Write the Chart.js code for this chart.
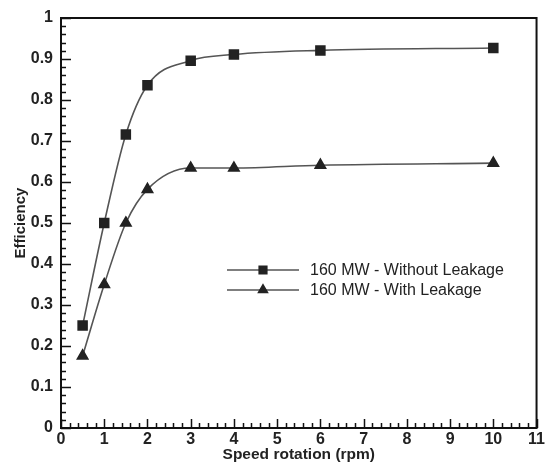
<!DOCTYPE html>
<html>
<head>
<meta charset="utf-8">
<script src="https://cdn.jsdelivr.net/npm/chart.js@4"></script>
<style>
  html, body { margin: 0; padding: 0; background: #fff; }
  #wrap { width: 547px; height: 464px; position: relative; }
</style>
</head>
<body>
<div id="wrap"><canvas id="chart"></canvas></div>
<script>
const speed = [0.5, 1, 1.5, 2, 3, 4, 6, 10];
const withoutLeakage = [0.25, 0.5, 0.716, 0.836, 0.896, 0.911, 0.921, 0.927];
const withLeakage = [0.176, 0.35, 0.5, 0.582, 0.634, 0.634, 0.641, 0.646];
const seriesLabels = ['160 MW - Without Leakage', '160 MW - With Leakage'];
const xTicks = [0, 1, 2, 3, 4, 5, 6, 7, 8, 9, 10, 11];
const yTicks = [0, 0.1, 0.2, 0.3, 0.4, 0.5, 0.6, 0.7, 0.8, 0.9, 1];

const FONT = 'Liberation Sans, Arial, sans-serif';

// box + inward ticks like the original Tecplot style
const frameAndTicks = {
  id: 'frameAndTicks',
  afterDraw(chart) {
    const { ctx, chartArea: a, scales } = chart;
    const xs = scales.x, ys = scales.y;
    ctx.save();
    ctx.strokeStyle = '#111';
    ctx.lineWidth = 1.5;
    ctx.beginPath();
    // x ticks (major 1, minor 0.2)
    for (let i = 0; i <= 55; i++) {
      const v = i * 0.2;
      const px = Math.round(xs.getPixelForValue(v)) + 0.5;
      const len = i % 5 === 0 ? 9 : 5;
      ctx.moveTo(px, a.bottom);
      ctx.lineTo(px, a.bottom - len);
    }
    // y ticks (major 0.1, minor 0.02)
    for (let i = 0; i <= 50; i++) {
      const v = i * 0.02;
      const py = Math.round(ys.getPixelForValue(v)) + 0.5;
      const len = i % 5 === 0 ? 10 : 5;
      ctx.moveTo(a.left, py);
      ctx.lineTo(a.left + len, py);
    }
    ctx.stroke();
    ctx.lineWidth = 2;
    ctx.strokeRect(a.left, a.top, a.right - a.left, a.bottom - a.top);
    ctx.restore();
  }
};

// legend drawn inside the plot area
const insideLegend = {
  id: 'insideLegend',
  afterDatasetsDraw(chart) {
    const { ctx } = chart;
    const x0 = 227, x1 = 299, tx = 310;
    const rows = [270, 290];
    ctx.save();
    chart.data.datasets.forEach((ds, i) => {
      const y = rows[i];
      ctx.strokeStyle = ds.borderColor;
      ctx.lineWidth = ds.borderWidth;
      ctx.beginPath();
      ctx.moveTo(x0, y);
      ctx.lineTo(x1, y);
      ctx.stroke();
      ctx.fillStyle = '#222';
      ctx.strokeStyle = '#222';
      Chart.helpers.drawPoint(ctx, {
        pointStyle: ds.pointStyle,
        radius: ds.pointRadius * 0.85,
        borderWidth: 1
      }, (x0 + x1) / 2, y);
      ctx.font = '16px ' + FONT;
      ctx.textBaseline = 'middle';
      ctx.fillText(ds.label, tx, y + 1);
    });
    ctx.restore();
  }
};

new Chart(document.getElementById('chart'), {
  type: 'line',
  data: {
    datasets: [
      {
        label: seriesLabels[0],
        data: speed.map((x, i) => ({ x, y: withoutLeakage[i] })),
        borderColor: '#555',
        borderWidth: 1.6,
        pointStyle: 'rect',
        pointRadius: 6.3,
        pointBackgroundColor: '#222',
        pointBorderColor: '#222',
        cubicInterpolationMode: 'monotone'
      },
      {
        label: seriesLabels[1],
        data: speed.map((x, i) => ({ x, y: withLeakage[i] })),
        borderColor: '#555',
        borderWidth: 1.6,
        pointStyle: 'triangle',
        pointRadius: 6,
        pointBackgroundColor: '#222',
        pointBorderColor: '#222',
        cubicInterpolationMode: 'monotone'
      }
    ]
  },
  options: {
    responsive: true,
    maintainAspectRatio: false,
    animation: false,
    layout: { padding: { top: 18, right: 8, left: 0, bottom: 0 } },
    plugins: {
      legend: { display: false },
      tooltip: { enabled: false }
    },
    scales: {
      x: {
        type: 'linear',
        min: 0,
        max: 11,
        afterBuildTicks: s => { s.ticks = xTicks.map(v => ({ value: v })); },
        afterFit: s => { s.height = 36; },
        grid: { display: false, drawTicks: false },
        border: { display: false },
        ticks: {
          padding: 2,
          color: '#222',
          font: { family: FONT, size: 16, weight: 'bold' }
        },
        title: {
          display: true,
          text: 'Speed rotation (rpm)',
          color: '#222',
          padding: { top: 0, bottom: 0 },
          font: { family: FONT, size: 15.5, weight: 'bold' }
        }
      },
      y: {
        min: 0,
        max: 1,
        afterBuildTicks: s => { s.ticks = yTicks.map(v => ({ value: v })); },
        afterFit: s => { s.width = 61; },
        grid: { display: false, drawTicks: false },
        border: { display: false },
        ticks: {
          padding: 8,
          color: '#222',
          font: { family: FONT, size: 16, weight: 'bold' },
          callback: v => String(Math.round(v * 10) / 10)
        },
        title: {
          display: true,
          text: 'Efficiency',
          color: '#222',
          padding: { top: 12, bottom: 0 },
          font: { family: FONT, size: 15, weight: 'bold' }
        }
      }
    }
  },
  plugins: [frameAndTicks, insideLegend]
});
</script>
</body>
</html>
